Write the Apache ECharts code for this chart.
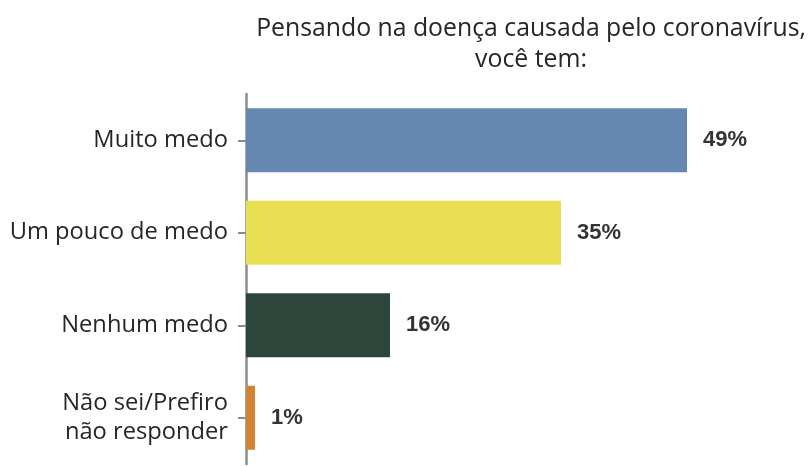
<!DOCTYPE html>
<html>
<head>
<meta charset="utf-8">
<script src="https://cdn.jsdelivr.net/npm/echarts@6/dist/echarts.min.js"></script>
<style>
  html, body { margin: 0; padding: 0; background: #fff; }
  #chart { width: 810px; height: 466px; }
</style>
</head>
<body>
<div id="chart"></div>
<script>
// categorias e valores (%)
const categories = ["Muito medo", "Um pouco de medo", "Nenhum medo", "Não sei/Prefiro\nnão responder"];
const values = [49, 35, 16, 1];
const barColors = ["#6688b0", "#e9df52", "#2c463c", "#d08434"];

const myChart = echarts.init(document.getElementById("chart"));
const option = {
  animation: false,
  title: {
    text: "Pensando na doença causada pelo coronavírus,\nvocê tem:",
    left: 526,
    top: 8,
    textAlign: "center",
    textStyle: {
      fontFamily: "Open Sans",
      fontSize: 24.8,
      fontWeight: "normal",
      color: "#262626",
      lineHeight: 31,
    },
  },
  grid: { left: 246, top: 94, width: 540, height: 370 },
  xAxis: {
    type: "value",
    min: 0,
    max: 60,
    show: false,
  },
  yAxis: {
    type: "category",
    data: categories,
    inverse: true,
    offset: 4, // linha do eixo um pouco afastada das barras
    axisLine: { show: true, lineStyle: { color: "#8c8c8c", width: 2.5 } },
    axisTick: { show: true, alignWithLabel: true, length: 8, lineStyle: { color: "#8c8c8c", width: 2 } },
    axisLabel: {
      margin: 14,
      fontFamily: "Open Sans",
      fontSize: 23.7,
      color: "#262626",
      lineHeight: 29,
      align: "right",
    },
  },
  series: [
    {
      type: "bar",
      barWidth: 64,
      data: values.map((v, i) => ({ value: v, itemStyle: { color: barColors[i] } })),
      label: {
        show: true,
        position: "right",
        distance: 16,
        formatter: "{c}%",
        fontFamily: "Liberation Sans",
        fontWeight: "bold",
        fontSize: 22,
        color: "#333",
      },
    },
  ],
};
myChart.setOption(option);
</script>
</body>
</html>
